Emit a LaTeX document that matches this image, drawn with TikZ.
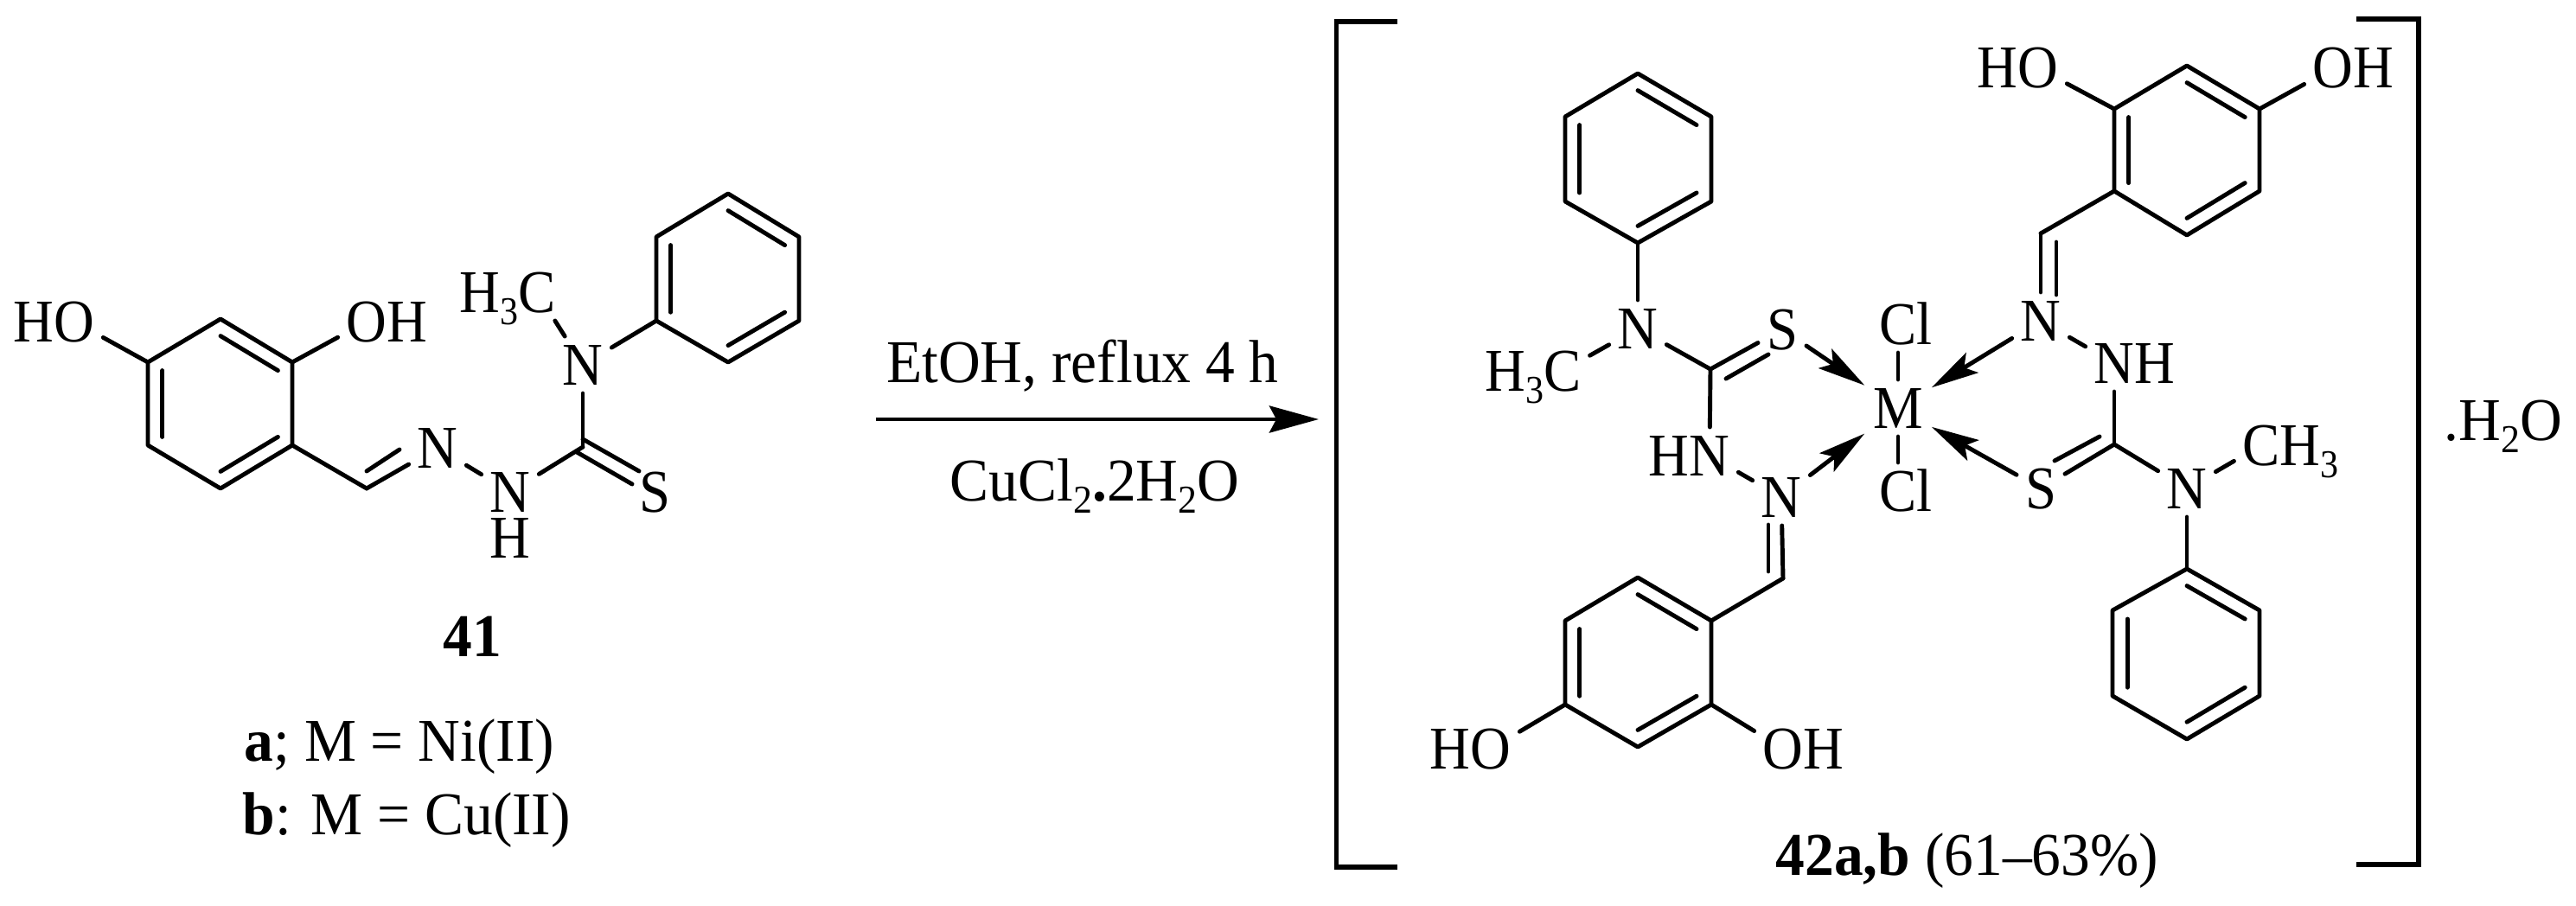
\documentclass[tikz,border=0pt]{standalone}
\usepackage{fontspec}
\setmainfont[FakeStretch=0.96]{Liberation Serif}
\newfontfamily\atomfont[FakeStretch=0.92]{Liberation Serif}
\usetikzlibrary{arrows.meta,calc}
\usepackage{tkz-euclide}
\newcommand{\ssub}[1]{\raisebox{-4pt}{\fontsize{13}{13}\selectfont #1}}
\newcommand{\innerBond}[3]{\draw[bond] ($(#1)!.2!(#3)$) -- ($(#2)!.2!(#3)$);}
\tikzset{
  every node/.style={font=\fontsize{20}{24}\selectfont},
  bond/.style={line width=1.4pt,color=black,line cap=round},
  atom/.style={font=\atomfont\fontsize{20}{24}\selectfont,inner sep=0pt,outer sep=.1cm,text height=.46cm,text depth=0pt},
  lab/.style={inner sep=0pt,anchor=base},
  labw/.style={inner sep=0pt,anchor=base west},
  coord/.style={line width=1.4pt,line cap=round,-{Stealth[length=.55cm,width=.27cm,inset=.11cm]}},
  react/.style={line width=1.4pt,-{Stealth[length=.57cm,width=.31cm,inset=.08cm]}},
  brack/.style={line width=1.6pt,line cap=butt,line join=miter}
}

\begin{document}
\begin{tikzpicture}
\useasboundingbox (0,0) rectangle (29.79,10.47);
\tkzSetUpLine[line width=1.4pt,color=black]

% Step 1. Rings
\tkzDefPoints{2.55/6.78/A1,3.38/6.28/A2,3.38/5.32/A3,2.55/4.82/A4,1.71/5.32/A5,1.71/6.28/A6,2.55/5.80/OA}
\tkzDefPoints{8.42/8.23/B1,9.24/7.73/B2,9.24/6.76/B3,8.42/6.28/B4,7.59/6.76/B5,7.59/7.73/B6,8.42/7.25/OB}
\tkzDefPoints{18.94/9.62/C1,19.79/9.12/C2,19.79/8.14/C3,18.94/7.66/C4,18.10/8.14/C5,18.10/9.12/C6,18.94/8.64/OC}
\tkzDefPoints{25.29/9.71/D1,26.13/9.21/D2,26.13/8.26/D3,25.29/7.75/D4,24.45/8.26/D5,24.45/9.21/D6,25.29/8.73/OD}
\tkzDefPoints{25.29/3.89/E1,26.13/3.41/E2,26.13/2.42/E3,25.29/1.92/E4,24.43/2.42/E5,24.43/3.41/E6,25.29/2.91/OE}
\tkzDefPoints{18.94/3.79/F1,19.79/3.29/F2,19.79/2.32/F3,18.94/1.83/F4,18.10/2.32/F5,18.10/3.29/F6,18.94/2.81/OF}

\tkzDrawPolygon[bond](A1,A2,A3,A4,A5,A6)
\tkzDrawPolygon[bond](B1,B2,B3,B4,B5,B6)
\tkzDrawPolygon[bond](C1,C2,C3,C4,C5,C6)
\tkzDrawPolygon[bond](D1,D2,D3,D4,D5,D6)
\tkzDrawPolygon[bond](E1,E2,E3,E4,E5,E6)
\tkzDrawPolygon[bond](F1,F2,F3,F4,F5,F6)

\innerBond{A1}{A2}{OA} \innerBond{A3}{A4}{OA} \innerBond{A5}{A6}{OA}
\innerBond{B1}{B2}{OB} \innerBond{B3}{B4}{OB} \innerBond{B5}{B6}{OB}
\innerBond{C1}{C2}{OC} \innerBond{C3}{C4}{OC} \innerBond{C5}{C6}{OC}
\innerBond{D1}{D2}{OD} \innerBond{D3}{D4}{OD} \innerBond{D5}{D6}{OD}
\innerBond{E1}{E2}{OE} \innerBond{E3}{E4}{OE} \innerBond{E5}{E6}{OE}
\innerBond{F1}{F2}{OF} \innerBond{F3}{F4}{OF} \innerBond{F5}{F6}{OF}

% Step 2. Compound 41
\tkzDefPoints{4.24/4.82/A7,4.24/5.02/A8,4.62/5.27/A9,6.74/5.30/KA}
\tkzDefPoints{6.74/5.39/KA1,7.39/5.02/KA2,6.67/5.24/KA3,7.31/4.87/KA4}

\node[atom] (oa1) at (0.86,6.75) {\llap{H}O};
\node[atom] (oa2) at (4.24,6.75) {O\rlap{H}};
\node[atom] (na1) at (5.06,5.29) {N};
\node[atom] (na2) at (5.90,4.78) {N};
\node[atom] (ha1) at (5.90,4.25) {H};
\node[atom] (na3) at (6.74,6.25) {N};
\node[atom] (sa1) at (7.57,4.78) {S};
\node[atom] (ca1) at (6.21,7.09) {\llap{H\ssub{3}}C};

\draw[bond] (A6) -- (oa1);
\draw[bond] (A2) -- (oa2);
\tkzDrawSegment[bond](A3,A7)
\draw[bond] (A7) -- (na1);
\tkzDrawSegment[bond](A8,A9)
\draw[bond] (na1) -- (na2);
\draw[bond] (na2) -- (KA);
\draw[bond] (KA) -- (na3);
\tkzDrawSegment[bond](KA1,KA2)
\tkzDrawSegment[bond](KA3,KA4)
\draw[bond] (na3) -- (ca1);
\draw[bond] (na3) -- (B5);

\node[lab] (t41) at (5.46,2.88) {\bfseries 41};
\node[labw] (ta) at (2.82,1.67) {{\bfseries a}; M = Ni(II)};
\node[labw] (tb) at (2.80,0.82) {{\bfseries b}: M = Cu(II)};

% Step 3. Reaction arrow
\tkzDefPoints{10.13/5.62/RA,15.25/5.62/RB}
\draw[react] (RA) -- (RB);
\node[lab] (tup) at (12.52,6.05) {EtOH, reflux 4 h};
\node[lab] (tdn) at (12.66,4.68) {CuCl\ssub{2}{\bfseries .}2H\ssub{2}O};

% Step 4. Metal centre
\node[atom] (m1) at (21.95,5.75) {M};
\node[atom] (cl1) at (21.95,6.72) {C\rlap{l}};
\node[atom] (cl2) at (21.95,4.79) {C\rlap{l}};
\draw[bond] (cl1) -- (m1);
\draw[bond] (cl2) -- (m1);

% Step 5. Left ligand
\tkzDefPoints{19.78/6.20/KC,20.34/6.53/KC1,19.96/6.09/KC2,20.45/6.37/KC3}
\tkzDefPoints{20.62/3.78/F7,20.45/3.86/F8,20.45/4.40/F9}

\node[atom] (nc1) at (18.94,6.67) {N};
\node[atom] (cc1) at (18.07,6.18) {\llap{H\ssub{3}}C};
\node[atom] (sc1) at (20.61,6.66) {S};
\node[atom] (nc2) at (19.77,5.20) {\llap{H}N};
\node[atom] (nc3) at (20.60,4.72) {N};
\node[atom] (of1) at (17.24,1.81) {\llap{H}O};
\node[atom] (of2) at (20.62,1.81) {O\rlap{H}};

\draw[bond] (C4) -- (nc1);
\draw[bond] (nc1) -- (cc1);
\draw[bond] (nc1) -- (KC);
\draw[bond] (KC) -- (sc1);
\tkzDrawSegment[bond](KC2,KC3)
\draw[bond] (KC) -- (nc2);
\draw[bond] (nc2) -- (nc3);
\draw[bond] (nc3) -- (F7);
\tkzDrawSegment[bond](F8,F9)
\tkzDrawSegment[bond](F7,F2)
\draw[bond] (F5) -- (of1);
\draw[bond] (F3) -- (of2);
\draw[coord] (sc1) -- (m1);
\draw[coord] (nc3) -- (m1);

% Step 6. Right ligand
\tkzDefPoints{24.45/5.33/KD,24.28/5.42/KD1,23.76/5.14/KD2}
\tkzDefPoints{23.60/7.77/D7,23.78/7.67/D8,23.78/7.06/D9}

\node[atom] (nd1) at (23.60,6.76) {N};
\node[atom] (nd2) at (24.45,6.27) {N\rlap{H}};
\node[atom] (sd1) at (23.60,4.82) {S};
\node[atom] (nd3) at (25.29,4.82) {N};
\node[atom] (cd1) at (26.15,5.32) {C\rlap{H\ssub{3}}};
\node[atom] (od1) at (23.57,9.68) {\llap{H}O};
\node[atom] (od2) at (26.98,9.68) {O\rlap{H}};

\draw[bond] (D6) -- (od1);
\draw[bond] (D2) -- (od2);
\tkzDrawSegment[bond](D5,D7)
\draw[bond] (D7) -- (nd1);
\tkzDrawSegment[bond](D8,D9)
\draw[bond] (nd1) -- (nd2);
\draw[bond] (nd2) -- (KD);
\draw[bond] (KD) -- (sd1);
\tkzDrawSegment[bond](KD1,KD2)
\draw[bond] (KD) -- (nd3);
\draw[bond] (nd3) -- (cd1);
\draw[bond] (nd3) -- (E1);
\draw[coord] (nd1) -- (m1);
\draw[coord] (sd1) -- (m1);

% Step 7. Brackets
\tkzDefPoints{16.16/10.22/LA,15.455/10.22/LB,15.455/0.44/LC,16.16/0.44/LD}
\tkzDefPoints{27.25/10.25/PA,27.97/10.25/PB,27.97/0.47/PC,27.25/0.47/PD}
\draw[brack] (LA) -- (LB) -- (LC) -- (LD);
\draw[brack] (PA) -- (PB) -- (PC) -- (PD);

\node[labw] (twater) at (28.26,5.38) {.H\ssub{2}O};
\node[labw] (t42) at (20.53,0.35) {{\bfseries 42a,b} (61–63\%)};

\end{tikzpicture}
\end{document}
